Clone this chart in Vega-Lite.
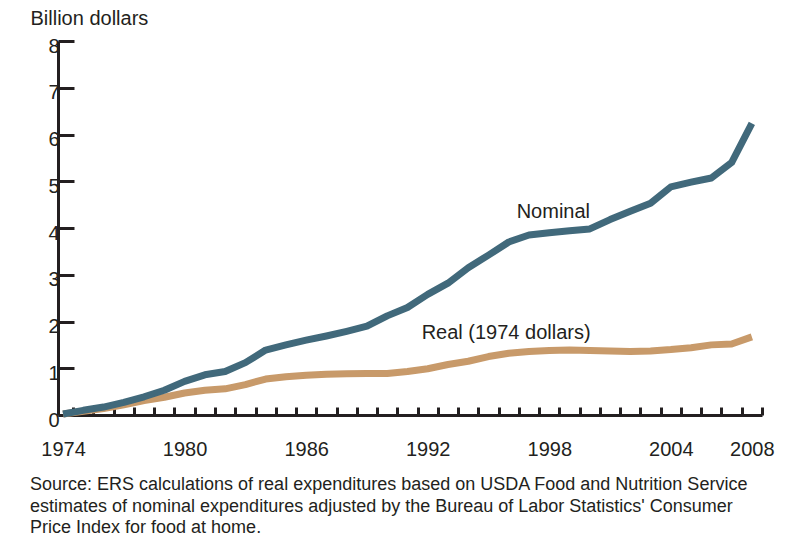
{
  "$schema": "https://vega.github.io/schema/vega-lite/v6.json",
  "width": 704,
  "height": 374,
  "autosize": {"type": "none"},
  "padding": {"left": 58, "top": 41, "right": 28, "bottom": 132},
  "background": "white",
  "config": {
    "view": {"stroke": null},
    "font": "Liberation Sans",
    "axis": {"grid": false, "labelColor": "#231f20", "titleColor": "#231f20", "domainColor": "#231f20", "tickColor": "#231f20"}
  },
  "title": {
    "text": [
      "Source: ERS calculations of real expenditures based on USDA Food and Nutrition Service",
      "estimates of nominal expenditures adjusted by the Bureau of Labor Statistics' Consumer",
      "Price Index for food at home."
    ],
    "orient": "bottom",
    "anchor": "start",
    "frame": "group",
    "dx": -28,
    "offset": 17,
    "fontSize": 18,
    "fontWeight": "normal",
    "font": "Liberation Sans",
    "color": "#231f20",
    "lineHeight": 21.5
  },
  "datasets": {
    "series": [
      {"year": 1974, "value": 0.02, "series": "Real"},
      {"year": 1975, "value": 0.08, "series": "Real"},
      {"year": 1976, "value": 0.14, "series": "Real"},
      {"year": 1977, "value": 0.22, "series": "Real"},
      {"year": 1978, "value": 0.31, "series": "Real"},
      {"year": 1979, "value": 0.38, "series": "Real"},
      {"year": 1980, "value": 0.47, "series": "Real"},
      {"year": 1981, "value": 0.53, "series": "Real"},
      {"year": 1982, "value": 0.56, "series": "Real"},
      {"year": 1983, "value": 0.65, "series": "Real"},
      {"year": 1984, "value": 0.77, "series": "Real"},
      {"year": 1985, "value": 0.82, "series": "Real"},
      {"year": 1986, "value": 0.85, "series": "Real"},
      {"year": 1987, "value": 0.87, "series": "Real"},
      {"year": 1988, "value": 0.88, "series": "Real"},
      {"year": 1989, "value": 0.89, "series": "Real"},
      {"year": 1990, "value": 0.89, "series": "Real"},
      {"year": 1991, "value": 0.93, "series": "Real"},
      {"year": 1992, "value": 0.99, "series": "Real"},
      {"year": 1993, "value": 1.08, "series": "Real"},
      {"year": 1994, "value": 1.15, "series": "Real"},
      {"year": 1995, "value": 1.25, "series": "Real"},
      {"year": 1996, "value": 1.32, "series": "Real"},
      {"year": 1997, "value": 1.36, "series": "Real"},
      {"year": 1998, "value": 1.38, "series": "Real"},
      {"year": 1999, "value": 1.39, "series": "Real"},
      {"year": 2000, "value": 1.38, "series": "Real"},
      {"year": 2001, "value": 1.37, "series": "Real"},
      {"year": 2002, "value": 1.36, "series": "Real"},
      {"year": 2003, "value": 1.37, "series": "Real"},
      {"year": 2004, "value": 1.40, "series": "Real"},
      {"year": 2005, "value": 1.44, "series": "Real"},
      {"year": 2006, "value": 1.50, "series": "Real"},
      {"year": 2007, "value": 1.52, "series": "Real"},
      {"year": 2008, "value": 1.67, "series": "Real"},
      {"year": 1974, "value": 0.02, "series": "Nominal"},
      {"year": 1975, "value": 0.10, "series": "Nominal"},
      {"year": 1976, "value": 0.17, "series": "Nominal"},
      {"year": 1977, "value": 0.27, "series": "Nominal"},
      {"year": 1978, "value": 0.39, "series": "Nominal"},
      {"year": 1979, "value": 0.53, "series": "Nominal"},
      {"year": 1980, "value": 0.72, "series": "Nominal"},
      {"year": 1981, "value": 0.86, "series": "Nominal"},
      {"year": 1982, "value": 0.93, "series": "Nominal"},
      {"year": 1983, "value": 1.12, "series": "Nominal"},
      {"year": 1984, "value": 1.39, "series": "Nominal"},
      {"year": 1985, "value": 1.50, "series": "Nominal"},
      {"year": 1986, "value": 1.60, "series": "Nominal"},
      {"year": 1987, "value": 1.69, "series": "Nominal"},
      {"year": 1988, "value": 1.79, "series": "Nominal"},
      {"year": 1989, "value": 1.90, "series": "Nominal"},
      {"year": 1990, "value": 2.12, "series": "Nominal"},
      {"year": 1991, "value": 2.30, "series": "Nominal"},
      {"year": 1992, "value": 2.58, "series": "Nominal"},
      {"year": 1993, "value": 2.82, "series": "Nominal"},
      {"year": 1994, "value": 3.15, "series": "Nominal"},
      {"year": 1995, "value": 3.42, "series": "Nominal"},
      {"year": 1996, "value": 3.70, "series": "Nominal"},
      {"year": 1997, "value": 3.85, "series": "Nominal"},
      {"year": 1998, "value": 3.90, "series": "Nominal"},
      {"year": 1999, "value": 3.94, "series": "Nominal"},
      {"year": 2000, "value": 3.98, "series": "Nominal"},
      {"year": 2001, "value": 4.18, "series": "Nominal"},
      {"year": 2002, "value": 4.36, "series": "Nominal"},
      {"year": 2003, "value": 4.53, "series": "Nominal"},
      {"year": 2004, "value": 4.88, "series": "Nominal"},
      {"year": 2005, "value": 4.98, "series": "Nominal"},
      {"year": 2006, "value": 5.07, "series": "Nominal"},
      {"year": 2007, "value": 5.40, "series": "Nominal"},
      {"year": 2008, "value": 6.24, "series": "Nominal"}
    ],
    "notes": [
      {"year": 1998.2, "value": 4.34, "label": "Nominal"},
      {"year": 1995.87, "value": 1.75, "label": "Real (1974 dollars)"}
    ]
  },
  "layer": [
    {
      "data": {"name": "series"},
      "mark": {"type": "line", "strokeWidth": 7, "strokeJoin": "round", "strokeCap": "butt"},
      "encoding": {
        "x": {
          "field": "year", "type": "quantitative",
          "scale": {"domain": [1973.75, 2008.5], "nice": false, "zero": false},
          "axis": {
            "orient": "bottom",
            "title": null,
            "values": [1974.5, 1975.5, 1976.5, 1977.5, 1978.5, 1979.5, 1980.5, 1981.5, 1982.5, 1983.5, 1984.5, 1985.5, 1986.5, 1987.5, 1988.5, 1989.5, 1990.5, 1991.5, 1992.5, 1993.5, 1994.5, 1995.5, 1996.5, 1997.5, 1998.5, 1999.5, 2000.5, 2001.5, 2002.5, 2003.5, 2004.5, 2005.5, 2006.5, 2007.5, 2008.5],
            "labels": false,
            "tickSize": -8,
            "tickWidth": 3,
            "domainWidth": 3
          }
        },
        "y": {
          "field": "value", "type": "quantitative",
          "scale": {"domain": [0, 8], "nice": false},
          "axis": {
            "title": "Billion dollars",
            "titleAngle": 0,
            "titleAlign": "left",
            "titleBaseline": "alphabetic",
            "titleX": -28,
            "titleY": -17,
            "titleFontSize": 20,
            "titleFontWeight": "normal",
            "values": [0, 1, 2, 3, 4, 5, 6, 7, 8],
            "tickSize": -16,
            "tickWidth": 3,
            "domainWidth": 3,
            "labelFontSize": 20,
            "labelPadding": 15,
            "labelOffset": 5
          }
        },
        "color": {
          "field": "series", "type": "nominal",
          "scale": {"domain": ["Nominal", "Real"], "range": ["#41697b", "#c89a6a"]},
          "legend": null
        }
      }
    },
    {
      "data": {"name": "notes"},
      "mark": {"type": "text", "fontSize": 20, "font": "Liberation Sans", "color": "#231f20", "align": "center", "baseline": "middle"},
      "encoding": {
        "x": {
          "field": "year", "type": "quantitative",
          "axis": {
            "orient": "bottom",
            "title": null,
            "values": [1974, 1980, 1986, 1992, 1998, 2004, 2008],
            "format": "d",
            "ticks": false,
            "domain": false,
            "labelFontSize": 20,
            "labelPadding": 24
          }
        },
        "y": {"field": "value", "type": "quantitative"},
        "text": {"field": "label"}
      }
    }
  ],
  "resolve": {"axis": {"x": "independent"}}
}
